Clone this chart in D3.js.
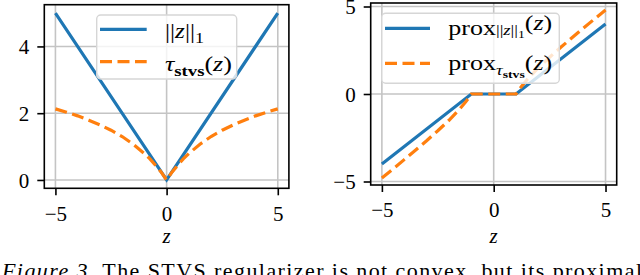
<!DOCTYPE html>
<html>
<head>
<meta charset="utf-8">
<script src="https://cdn.jsdelivr.net/npm/d3@7"></script>
<style>
  html, body { margin: 0; padding: 0; background: #fff; }
  svg { display: block; }
  text { font-family: "Liberation Serif", "DejaVu Serif", serif; fill: #000; }
</style>
</head>
<body>
<div id="chart"></div>
<script>
// values
const l1Z      = [-5, 0, 5];
const l1Vals   = [5, 0, 5];
const tauZ     = [-5, -4.5, -4, -3.5, -3, -2.5, -2, -1.5, -1, -0.75, -0.5, -0.25, 0,
                  0.25, 0.5, 0.75, 1, 1.5, 2, 2.5, 3, 3.5, 4, 4.5, 5];
const tauVals  = [2.13, 2.03, 1.92, 1.79, 1.65, 1.49, 1.30, 1.07, 0.79, 0.63, 0.44, 0.24, 0,
                  0.24, 0.44, 0.63, 0.79, 1.07, 1.30, 1.49, 1.65, 1.79, 1.92, 2.03, 2.13];
const proxL1Z    = [-5, -1, 1, 5];
const proxL1Vals = [-4, 0, 0, 4];
const proxTauZ    = [-5, -4.5, -4, -3.5, -3, -2.5, -2, -1.5, -1.25, -1.1, -1,
                     1, 1.1, 1.25, 1.5, 2, 2.5, 3, 3.5, 4, 4.5, 5];
const proxTauVals = [-4.8, -4.28, -3.75, -3.21, -2.67, -2.1, -1.5, -0.83, -0.45, -0.19, 0,
                     0, 0.19, 0.45, 0.83, 1.5, 2.1, 2.67, 3.21, 3.75, 4.28, 4.8];
const xTicks  = [-5, 0, 5];
const yTicksL = [0, 2, 4];
const yTicksR = [-5, 0, 5];

const W = 640, H = 275;
const BLUE = "#1f77b4", ORANGE = "#ff7f0e";
const FS = 21;

const svg = d3.select("#chart").append("svg")
  .attr("width", W).attr("height", H)
  .attr("viewBox", `0 0 ${W} ${H}`);
svg.append("rect").attr("width", W).attr("height", H).attr("fill", "#fff");

function zip(xs, ys) { return xs.map((x, i) => [x, ys[i]]); }

function panel(opt) {
  const x = d3.scaleLinear().domain([-5.5, 5.5]).range([opt.left, opt.right]);
  const y = d3.scaleLinear().domain(opt.yDomain).range([opt.bottom, opt.top]);
  const g = svg.append("g");

  // grid
  g.append("g").selectAll("line").data(xTicks).join("line")
    .attr("x1", d => x(d)).attr("x2", d => x(d))
    .attr("y1", opt.top).attr("y2", opt.bottom)
    .attr("stroke", "#c4c4c4").attr("stroke-width", 1.6);
  g.append("g").selectAll("line").data(opt.yTicks).join("line")
    .attr("y1", d => y(d)).attr("y2", d => y(d))
    .attr("x1", opt.left).attr("x2", opt.right)
    .attr("stroke", "#c4c4c4").attr("stroke-width", 1.6);

  const line = d3.line().x(d => x(d[0])).y(d => y(d[1]));
  opt.series.forEach(s => {
    g.append("path").datum(zip(s.xs, s.ys))
      .attr("d", line).attr("fill", "none")
      .attr("stroke", s.color).attr("stroke-width", 3.2)
      .attr("stroke-dasharray", s.dash ? "12,5.5" : null);
  });

  // legend
  const lg = g.append("g");
  lg.append("rect")
    .attr("x", opt.legend.x0).attr("y", opt.legend.y0)
    .attr("width", opt.legend.x1 - opt.legend.x0)
    .attr("height", opt.legend.y1 - opt.legend.y0)
    .attr("rx", 4)
    .attr("fill", "#fff").attr("fill-opacity", 0.8)
    .attr("stroke", "#d6d6d6").attr("stroke-width", 1.4);
  opt.series.forEach((s, i) => {
    const ly = opt.legend.rows[i];
    lg.append("line")
      .attr("x1", opt.legend.lx0).attr("x2", opt.legend.lx1)
      .attr("y1", ly).attr("y2", ly)
      .attr("stroke", s.color).attr("stroke-width", 3.2)
      .attr("stroke-dasharray", s.dash ? "12,5.5" : null);
    const t = lg.append("text")
      .attr("x", opt.legend.tx).attr("y", opt.legend.base[i])
      .attr("font-size", FS)
      .attr("textLength", opt.legend.widths[i])
      .attr("lengthAdjust", "spacingAndGlyphs");
    s.label(t);
  });

  // axes (spines + ticks)
  const fmt = d3.format("d");
  const ax = g.append("g").attr("transform", `translate(0,${opt.bottom})`)
    .call(d3.axisBottom(x).tickValues(xTicks).tickFormat(fmt).tickSize(7).tickPadding(6));
  const ay = g.append("g").attr("transform", `translate(${opt.left},0)`)
    .call(d3.axisLeft(y).tickValues(opt.yTicks).tickFormat(fmt).tickSize(7).tickPadding(8));
  [ax, ay].forEach(a => {
    a.select(".domain").remove();
    a.selectAll(".tick line").attr("stroke", "#000").attr("stroke-width", 1.6);
    a.selectAll(".tick text").attr("font-size", FS).attr("fill", "#000");
  });
  ax.selectAll(".tick text").attr("dy", "0.92em");
  ay.selectAll(".tick text").attr("dy", "0.34em");

  g.append("rect")
    .attr("x", opt.left).attr("y", opt.top)
    .attr("width", opt.right - opt.left).attr("height", opt.bottom - opt.top)
    .attr("fill", "none").attr("stroke", "#000").attr("stroke-width", 1.6);

  g.append("text")
    .attr("x", x(0)).attr("y", 243)
    .attr("text-anchor", "middle").attr("font-size", FS)
    .attr("font-style", "italic").text("z");
}

function sub(t, txt, size, dy, opts) {
  const s = t.append("tspan").attr("font-size", size).attr("dy", dy).text(txt);
  if (opts && opts.italic) s.attr("font-style", "italic");
  if (opts && opts.bold) s.attr("font-weight", "bold");
  return s;
}

function norm(t, size) {
  // ||z||
  t.append("tspan").attr("font-size", size).text("||");
  t.append("tspan").attr("font-size", size).attr("font-style", "italic").text("z");
  t.append("tspan").attr("font-size", size).text("||");
}

panel({
  left: 44.3, right: 288.9, top: 4.7, bottom: 188.3,
  yDomain: [-0.25, 5.25], yTicks: yTicksL,
  series: [
    { xs: l1Z, ys: l1Vals, color: BLUE, dash: false,
      label: t => {
        norm(t, FS);
        sub(t, "1", 15, 5);
      } },
    { xs: tauZ, ys: tauVals, color: ORANGE, dash: true,
      label: t => {
        t.append("tspan").attr("font-style", "italic").text("\u03C4");
        sub(t, "stvs", 15, 5, { bold: true });
        t.append("tspan").attr("font-size", FS).attr("dy", -5).text("(");
        t.append("tspan").attr("font-style", "italic").text("z");
        t.append("tspan").text(")");
      } }
  ],
  legend: { x0: 96.7, x1: 236.7, y0: 15, y1: 79, lx0: 100, lx1: 146.7,
            rows: [29.3, 61.7], tx: 165, base: [38.3, 71], widths: [39, 67] }
});

panel({
  left: 370.7, right: 616.7, top: 3, bottom: 185,
  yDomain: [-5.2, 5.2], yTicks: yTicksR,
  series: [
    { xs: proxL1Z, ys: proxL1Vals, color: BLUE, dash: false,
      label: t => {
        t.append("tspan").text("prox");
        t.append("tspan").attr("dy", 5);
        norm(t, 15);
        sub(t, "1", 11, 3);
        t.append("tspan").attr("font-size", FS).attr("dy", -8).text("(");
        t.append("tspan").attr("font-style", "italic").text("z");
        t.append("tspan").text(")");
      } },
    { xs: proxTauZ, ys: proxTauVals, color: ORANGE, dash: true,
      label: t => {
        t.append("tspan").text("prox");
        sub(t, "\u03C4", 15, 5, { italic: true });
        sub(t, "stvs", 11, 3, { bold: true });
        t.append("tspan").attr("font-size", FS).attr("dy", -8).text("(");
        t.append("tspan").attr("font-style", "italic").text("z");
        t.append("tspan").text(")");
      } }
  ],
  legend: { x0: 381.7, x1: 559.3, y0: 13.3, y1: 83.3, lx0: 385, lx1: 430,
            rows: [28.3, 63.3], tx: 448.3, base: [35, 70], widths: [104, 104] }
});

// caption, cut by the bottom edge as in the source
const cap = svg.append("text")
  .attr("x", 2).attr("y", 278).attr("font-size", 22)
  .attr("textLength", 640).attr("lengthAdjust", "spacing");
cap.append("tspan").attr("font-style", "italic").text("Figure 3.");
cap.append("tspan").text(" The STVS regularizer is not convex, but its proximal");
</script>
</body>
</html>
